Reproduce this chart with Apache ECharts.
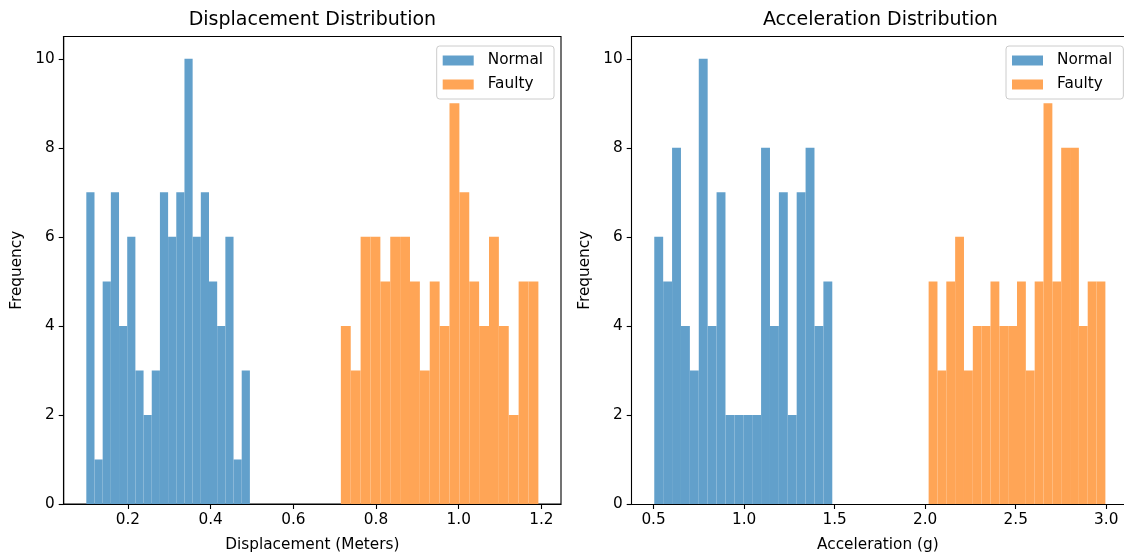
<!DOCTYPE html>
<html>
<head>
<meta charset="utf-8">
<script src="https://cdn.jsdelivr.net/npm/echarts@6/dist/echarts.min.js"></script>
<style>
html,body{margin:0;padding:0;background:#fff;}
#chart{width:1124px;height:554px;}
</style>
</head>
<body>
<div id="chart"></div>
<script>
// ---- Data (20 bins each) ----
const dispNormalCounts = [7,1,5,7,4,6,3,2,3,7,6,7,10,6,7,5,4,6,1,3];
const dispNormalRange  = [0.0994, 0.495];
const dispFaultyCounts = [4,3,6,6,5,6,6,5,3,5,4,9,7,5,4,6,4,2,5,5];
const dispFaultyRange  = [0.715, 1.1927];
const accNormalCounts  = [6,5,8,4,3,10,4,7,2,2,2,2,8,4,7,2,7,8,4,5];
const accNormalRange   = [0.504, 1.487];
const accFaultyCounts  = [5,3,5,6,3,4,4,5,4,4,5,3,5,9,5,8,8,4,5,5];
const accFaultyRange   = [2.019, 2.995];

const dispTicks = [0.2, 0.4, 0.6, 0.8, 1.0, 1.2];
const accTicks  = [0.5, 1.0, 1.5, 2.0, 2.5, 3.0];
const yTicks    = [0, 2, 4, 6, 8, 10];

const titles = ['Displacement Distribution', 'Acceleration Distribution'];
const xNames = ['Displacement (Meters)', 'Acceleration (g)'];
const seriesNames = ['Normal', 'Faulty'];

// ---- Helpers ----
function binRows(counts, range) {
  const n = counts.length, w = (range[1] - range[0]) / n;
  return counts.map((c, i) => [range[0] + i * w, range[0] + (i + 1) * w, c]);
}
const BLUE = '#62a0cb', ORANGE = '#ffa556';
const FONT = 'DejaVu Sans';
const FS = 15.3, TFS = 19;

function renderItem(params, api) {
  const p0 = api.coord([api.value(0), api.value(2)]);
  const p1 = api.coord([api.value(1), 0]);
  return {
    type: 'rect',
    shape: { x: p0[0], y: p0[1], width: p1[0] - p0[0], height: p1[1] - p0[1] },
    style: { fill: api.visual('color') }
  };
}
function histSeries(name, idx, counts, range, color) {
  return {
    type: 'custom', name: name, xAxisIndex: idx, yAxisIndex: idx,
    renderItem: renderItem, itemStyle: { color: color },
    encode: { x: [0, 1], y: 2 },
    data: binRows(counts, range), animation: false
  };
}

const LINE = { color: '#000', width: 1.1 };

function xAxis(idx, min, max, ticks, name) {
  return {
    type: 'value', gridIndex: idx, min: min, max: max, position: 'bottom',
    name: name, nameLocation: 'middle', nameGap: 34,
    nameTextStyle: { fontFamily: FONT, fontSize: FS, color: '#000' },
    axisLine: { show: true, onZero: false, lineStyle: LINE },
    axisTick: { show: true, length: 5, lineStyle: LINE, customValues: ticks },
    axisLabel: { show: true, margin: 9, fontFamily: FONT, fontSize: FS, color: '#000',
      customValues: ticks, formatter: v => Number(v).toFixed(1) },
    splitLine: { show: false }
  };
}
function topLine(idx, min, max) {
  return {
    type: 'value', gridIndex: idx, min: min, max: max, position: 'top',
    axisLine: { show: true, onZero: false, lineStyle: LINE },
    axisTick: { show: false }, axisLabel: { show: false }, splitLine: { show: false }
  };
}
function yAxis(idx) {
  return {
    type: 'value', gridIndex: idx, min: 0, max: 10.5, position: 'left',
    name: 'Frequency', nameLocation: 'middle', nameGap: 39, nameRotate: 90,
    nameTextStyle: { fontFamily: FONT, fontSize: FS, color: '#000' },
    axisLine: { show: true, onZero: false, lineStyle: LINE },
    axisTick: { show: true, length: 5, lineStyle: LINE, customValues: yTicks },
    axisLabel: { show: true, margin: 9, fontFamily: FONT, fontSize: FS, color: '#000',
      customValues: yTicks, formatter: v => String(v) },
    splitLine: { show: false }
  };
}
function legend(left) {
  return {
    left: left, top: 46, orient: 'vertical',
    data: seriesNames, icon: 'rect', itemWidth: 31, itemHeight: 10, itemGap: 9,
    padding: [7, 11, 7, 6], backgroundColor: '#fff', borderColor: '#cccccc',
    borderWidth: 1, borderRadius: 3, selectedMode: false,
    textStyle: { fontFamily: FONT, fontSize: FS, color: '#000', padding: [0, 0, 0, 9] }
  };
}

// right subplot's right spine falls outside the picture, so its grid ends at the edge
const R_MIN = 0.3794, R_MAX = 3.0978;

const chart = echarts.init(document.getElementById('chart'), null, { renderer: 'canvas' });
chart.setOption({
  backgroundColor: '#fff',
  animation: false,
  title: [
    { text: titles[0], left: 312.4, top: 11, textAlign: 'center', padding: 0,
      textStyle: { fontFamily: FONT, fontSize: TFS, fontWeight: 'normal', color: '#000' } },
    { text: titles[1], left: 880.4, top: 11, textAlign: 'center', padding: 0,
      textStyle: { fontFamily: FONT, fontSize: TFS, fontWeight: 'normal', color: '#000' } }
  ],
  legend: [legend(436.7), legend(1006)],
  grid: [
    { left: 63.7, width: 497.3, top: 36.5, bottom: 50, outerBoundsMode: 'none', containLabel: false,
      show: true, borderColor: '#000', borderWidth: 1.1, backgroundColor: 'transparent' },
    { left: 631.7, right: 0, top: 36.5, bottom: 50, outerBoundsMode: 'none', containLabel: false, show: false }
  ],
  xAxis: [
    xAxis(0, 0.0447, 1.2474, dispTicks, xNames[0]),
    xAxis(1, R_MIN, R_MAX, accTicks, xNames[1]),
    topLine(1, R_MIN, R_MAX)
  ],
  yAxis: [yAxis(0), yAxis(1)],
  series: [
    histSeries(seriesNames[0], 0, dispNormalCounts, dispNormalRange, BLUE),
    histSeries(seriesNames[1], 0, dispFaultyCounts, dispFaultyRange, ORANGE),
    histSeries(seriesNames[0], 1, accNormalCounts, accNormalRange, BLUE),
    histSeries(seriesNames[1], 1, accFaultyCounts, accFaultyRange, ORANGE)
  ]
});
</script>
</body>
</html>
